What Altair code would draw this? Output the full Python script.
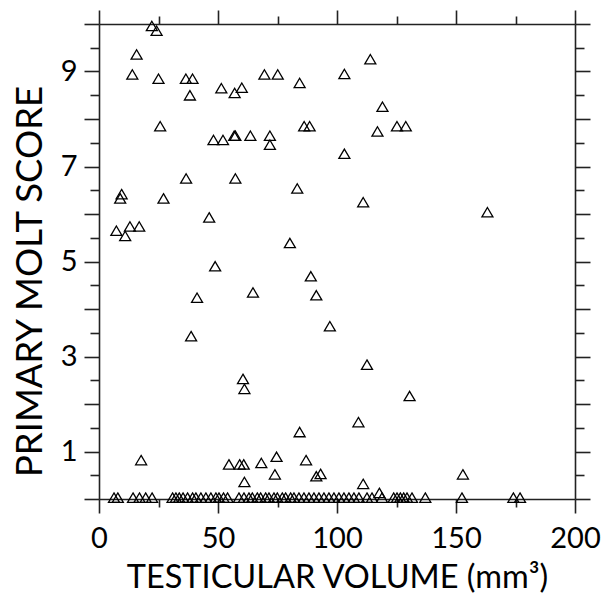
import altair as alt
import pandas as pd

# Birds in primary molt (score > 0): testicular volume (mm3) and molt score
volume_molting = [22.2, 24.2, 15.8, 14.0, 25.0, 36.5, 39.3, 38.2, 51.4, 57.0,
                  60.0, 69.5, 75.1, 84.3, 25.7, 48.1, 52.1, 56.8, 57.3, 63.6,
                  71.8, 71.8, 86.2, 88.5, 114.0, 103.1, 119.1, 117.0, 125.2, 128.9,
                  103.1, 36.6, 57.3, 83.3, 9.5, 8.9, 27.1, 46.3, 7.3, 13.0,
                  16.9, 11.0, 80.2, 48.8, 89.0, 41.2, 64.7, 91.3, 97.0, 38.7,
                  111.0, 163.2, 60.5, 61.1, 84.3, 17.7, 54.6, 59.1, 60.8, 61.1,
                  68.2, 74.6, 73.9, 87.0, 91.3, 93.1, 112.6, 130.5, 109.0, 152.9,
                  111.0, 117.8]
score_molting = [9.93, 9.83, 9.33, 8.91, 8.82, 8.82, 8.82, 8.47, 8.62, 8.52,
                 8.63, 8.91, 8.91, 8.73, 7.82, 7.53, 7.53, 7.62, 7.62, 7.62,
                 7.62, 7.43, 7.82, 7.82, 9.23, 8.92, 8.23, 7.71, 7.82, 7.82,
                 7.24, 6.72, 6.72, 6.51, 6.39, 6.30, 6.30, 5.90, 5.62, 5.71,
                 5.71, 5.51, 5.36, 4.87, 4.66, 4.21, 4.32, 4.26, 3.61, 3.40,
                 6.22, 6.01, 2.50, 2.29, 1.38, 0.79, 0.70, 0.70, 0.70, 0.33,
                 0.73, 0.86, 0.49, 0.79, 0.45, 0.50, 2.80, 2.14, 1.59, 0.49,
                 0.29, 0.10]

# Birds not in molt (score 0)
volume_nonmolting = [6.3, 7.9, 14.3, 17.0, 19.6, 22.3,
                     30.9, 32.3, 33.7, 35.3, 37.2, 39.3, 40.7, 42.8, 44.9, 47.0, 49.1, 50.4,
                     52.3, 54.0, 58.8, 60.9, 63.0, 64.4, 66.5, 67.9, 70.0, 71.4, 73.5, 74.9,
                     77.0, 78.4, 80.5, 81.9, 84.0, 86.1, 88.2, 90.3, 92.4, 94.5, 96.6, 98.7,
                     100.8, 102.9, 105.0, 107.1, 109.2, 112.6, 114.7, 118.9, 123.8, 125.2,
                     126.6, 128.0, 129.4, 131.5, 137.1, 152.5, 174.1, 176.9]
score_nonmolting = [0] * len(volume_nonmolting)

x_ticks = [0, 25, 50, 75, 100, 125, 150, 175, 200]
y_ticks = [0, 0.5, 1, 1.5, 2, 2.5, 3, 3.5, 4, 4.5, 5, 5.5, 6, 6.5, 7, 7.5,
           8, 8.5, 9, 9.5, 10]

df = pd.DataFrame({
    "volume": volume_molting + volume_nonmolting,
    "score": score_molting + score_nonmolting,
})

tri = "M0,-1.1L1,0.6L-1,0.6Z"

x_tick_size = {"condition": {"test": "datum.value % 50 === 0", "value": 14}, "value": 8}
y_tick_size = {"condition": {"test": "datum.value % 1 === 0", "value": 15}, "value": 9}

x_scale = alt.Scale(domain=[0, 200], nice=False, zero=False)
y_scale = alt.Scale(domain=[0, 10], nice=False, zero=False)

base = alt.Chart(df)

points = base.mark_point(
    shape=tri, filled=False, stroke="black", strokeWidth=1.3, size=121, opacity=1
).encode(
    x=alt.X("volume:Q", scale=x_scale, axis=alt.Axis(
        orient="bottom", values=x_ticks, tickSize=x_tick_size, labelFlush=False,
        labelExpr="datum.value % 50 === 0 ? datum.label : ''",
        title="TESTICULAR VOLUME (mm³)", labelPadding=11, titlePadding=8,
        titleFontSize=32.5)),
    y=alt.Y("score:Q", scale=y_scale, axis=alt.Axis(
        orient="left", values=y_ticks, tickSize=y_tick_size, labelFlush=False,
        labelExpr="datum.value % 2 === 1 ? format(datum.value, 'd') : ''",
        title="PRIMARY MOLT SCORE", labelPadding=7, titlePadding=11,
        titleFontSize=36.5, titleY=257)),
)

frame = base.mark_point(opacity=0).encode(
    x=alt.X("volume:Q", scale=x_scale, axis=alt.Axis(
        orient="top", values=x_ticks, tickSize=x_tick_size, labels=False, title=None)),
    y=alt.Y("score:Q", scale=y_scale, axis=alt.Axis(
        orient="right", values=y_ticks, tickSize=y_tick_size, labels=False, title=None)),
)

chart = alt.layer(points, frame).resolve_axis(
    x="independent", y="independent"
).properties(
    width=476, height=475,
    padding={"left": 99, "top": 24, "right": 28, "bottom": 100},
    autosize=alt.AutoSizeParams(type="none"),
).configure_view(stroke=None).configure_axis(
    grid=False, domainColor="#222222", domainWidth=1.6, tickColor="#222222", tickWidth=1.6,
    labelFont="Lato", labelFontSize=29, labelColor="black",
    titleFont="Lato", titleFontWeight="normal", titleColor="black",
)

chart.save("out.html", embed_options={"renderer": "svg", "actions": False})
